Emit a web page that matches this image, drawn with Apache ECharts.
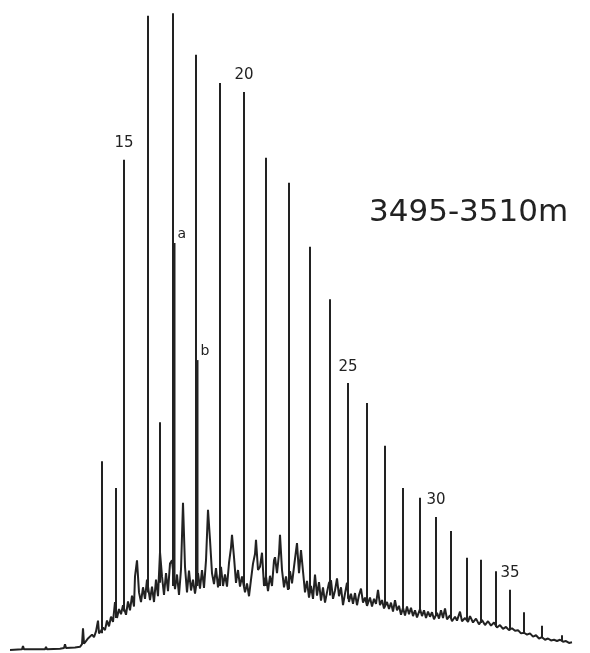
<!DOCTYPE html>
<html>
<head>
<meta charset="utf-8">
<script src="https://cdn.jsdelivr.net/npm/echarts@6/dist/echarts.min.js"></script>
<style>
  html, body { margin: 0; padding: 0; background: #fff; }
  #chart { width: 590px; height: 653px; }
</style>
</head>
<body>
<div id="chart"></div>
<script>
var sampleName = '3495-3510m'

// spikes: retention time (min), baseline under the spike, top of the spike
var peakTimes = [9.2, 10.6, 11.4, 13.8, 15.0, 16.3, 16.45, 18.6, 18.75, 21.0, 23.4, 25.6, 27.9, 30.0, 32.0, 33.8, 35.7, 37.5, 39.3, 41.0, 42.6, 44.1, 45.7, 47.1, 48.6, 50.0, 51.4, 53.2, 55.2]
var peakBase  = [2.6, 5.0, 6.0, 9.0, 10.5, 10.0, 10.0, 10.0, 10.0, 10.0, 10.0, 10.0, 9.5, 9.0, 8.5, 8.0, 7.5, 7.0, 6.2, 5.8, 5.3, 5.0, 4.6, 4.2, 3.6, 3.2, 2.7, 2.0, 1.4]
var peakTops  = [29.5, 25.3, 76.6, 99.1, 35.6, 99.5, 63.6, 93.0, 45.3, 88.6, 87.2, 76.9, 73.0, 63.0, 54.8, 41.7, 38.6, 31.9, 25.3, 23.8, 20.8, 18.6, 14.4, 14.1, 12.3, 9.4, 5.9, 3.8, 2.3]
var peakNames = ['', '', '15', '', '', '', 'a', '', 'b', '', '20', '', '', '', '', '25', '', '', '', '', '30', '', '', '', '', '35', '', '', '']

// unresolved hump + noise, [time, response]
var trace = [[0,0],[1.2,0.1],[1.3,0.6],[1.4,0.1],[3.0,0.1],[3.5,0.1],[3.6,0.5],[3.7,0.1],[5.0,0.2],[5.4,0.3],[5.5,0.9],[5.6,0.3],[6.5,0.4],[7.0,0.5],[7.2,0.9],[7.3,3.4],[7.4,1.0],[7.6,1.4],[7.8,1.8],[8.0,1.5],[8.2,2.4],[8.4,2.0],[8.6,2.9],[8.8,4.6],[8.9,2.6],[9.1,3.0],[9.3,3.5],[9.5,3.1],[9.7,4.6],[9.9,3.7],[10.1,5.2],[10.3,4.4],[10.5,7.5],[10.7,5.0],[10.9,6.4],[11.1,5.6],[11.3,7.0],[11.6,5.5],[11.8,7.6],[12.0,6.2],[12.2,8.5],[12.4,6.8],[12.5,11.5],[12.7,14.0],[12.9,9.0],[13.1,7.5],[13.3,9.8],[13.5,8.0],[13.7,11.0],[14.0,7.8],[14.2,9.9],[14.4,7.5],[14.6,11.0],[14.8,8.4],[15.0,15.3],[15.2,11.5],[15.4,8.6],[15.6,12.0],[15.8,9.2],[16.0,13.5],[16.2,14.0],[16.5,9.5],[16.7,11.8],[16.9,8.6],[17.1,12.6],[17.3,23.0],[17.5,13.0],[17.7,9.0],[17.9,12.4],[18.1,9.3],[18.3,11.0],[18.5,8.8],[18.8,12.0],[19.0,9.6],[19.2,12.5],[19.4,9.7],[19.6,14.0],[19.8,21.9],[20.0,17.2],[20.2,12.0],[20.4,10.3],[20.6,12.8],[20.8,9.8],[21.1,13.0],[21.3,10.0],[21.5,11.8],[21.7,9.9],[21.9,13.6],[22.1,16.0],[22.2,18.0],[22.4,14.5],[22.6,10.5],[22.8,12.5],[23.0,9.9],[23.2,11.5],[23.5,9.0],[23.7,10.4],[23.9,8.4],[24.1,11.0],[24.3,13.5],[24.5,15.0],[24.6,17.2],[24.8,12.5],[25.0,13.0],[25.2,15.2],[25.4,10.0],[25.6,11.5],[25.8,9.2],[26.0,11.6],[26.2,10.0],[26.4,14.0],[26.5,14.5],[26.7,12.0],[26.9,15.0],[27.0,18.0],[27.2,12.5],[27.4,9.8],[27.6,11.5],[27.8,9.4],[28.0,12.3],[28.2,10.4],[28.4,13.0],[28.6,15.5],[28.7,16.7],[28.9,12.0],[29.1,15.6],[29.3,12.3],[29.5,9.0],[29.7,10.8],[29.9,8.2],[30.1,10.0],[30.3,8.0],[30.5,11.8],[30.7,8.5],[30.9,10.6],[31.1,7.7],[31.3,9.8],[31.5,7.4],[31.7,9.0],[31.9,10.5],[32.1,10.9],[32.3,8.0],[32.5,9.3],[32.7,11.2],[32.9,8.4],[33.1,9.8],[33.3,7.0],[33.5,8.8],[33.7,10.5],[33.9,7.5],[34.1,8.8],[34.3,7.2],[34.5,8.9],[34.7,7.0],[34.9,8.6],[35.1,9.6],[35.3,7.4],[35.5,8.2],[35.7,6.9],[36.0,8.2],[36.2,6.8],[36.4,8.0],[36.6,7.2],[36.8,9.4],[37.0,7.0],[37.2,7.8],[37.4,6.5],[37.7,7.5],[37.9,6.4],[38.1,7.4],[38.3,6.0],[38.5,7.8],[38.7,6.2],[38.9,6.9],[39.1,5.5],[39.3,6.6],[39.5,5.4],[39.7,6.8],[39.9,5.6],[40.1,6.6],[40.3,5.3],[40.5,6.2],[40.7,5.1],[41.0,6.4],[41.2,5.3],[41.4,6.2],[41.6,5.0],[41.8,6.0],[42.0,5.2],[42.2,5.9],[42.4,4.8],[42.7,5.8],[42.9,4.9],[43.1,6.2],[43.3,5.0],[43.5,6.5],[43.7,4.8],[44.0,5.4],[44.2,4.5],[44.5,5.2],[44.7,4.6],[45.0,6.0],[45.2,4.5],[45.5,5.0],[45.8,4.4],[46.0,5.3],[46.3,4.3],[46.6,4.9],[46.9,4.0],[47.2,4.7],[47.5,3.9],[47.8,4.5],[48.1,3.8],[48.4,4.3],[48.7,3.5],[49.0,3.9],[49.3,3.3],[49.6,3.6],[49.9,3.1],[50.2,3.4],[50.5,3.0],[50.8,3.1],[51.1,2.6],[51.4,2.7],[51.7,2.4],[52.0,2.6],[52.3,2.1],[52.6,2.3],[52.9,1.8],[53.2,2.0],[53.5,1.6],[53.8,1.8],[54.1,1.5],[54.4,1.6],[54.7,1.4],[55.0,1.6],[55.3,1.3],[55.6,1.4],[55.9,1.1],[56.2,1.2]]

var ink = '#222'

var peakData = []
for (var i = 0; i < peakTimes.length; i++) {
  peakData.push([peakTimes[i], peakBase[i], peakTops[i]])
}

function renderPeak(params, api) {
  var p0 = api.coord([api.value(0), api.value(1)])
  var p1 = api.coord([api.value(0), api.value(2)])
  var kids = [{
    type: 'line',
    shape: { x1: p0[0], y1: p0[1], x2: p1[0], y2: p1[1] },
    style: { stroke: ink, lineWidth: 2 }
  }]
  var name = peakNames[params.dataIndex]
  if (name) {
    var letter = isNaN(+name)
    kids.push({
      type: 'text',
      x: letter ? p1[0] + 3 : p1[0],
      y: letter ? p1[1] - 2 : p1[1] - 9,
      style: {
        text: name,
        align: letter ? 'left' : 'center',
        verticalAlign: 'bottom',
        fill: '#222',
        fontSize: letter ? 14 : 15,
        fontFamily: 'DejaVu Sans'
      }
    })
  }
  return { type: 'group', children: kids }
}

var chart = echarts.init(document.getElementById('chart'))
chart.setOption({
  backgroundColor: '#fff',
  animation: false,
  title: {
    text: sampleName,
    left: 369,
    top: 197,
    padding: 0,
    textStyle: { color: '#222', fontSize: 31, fontWeight: 'normal', fontFamily: 'DejaVu Sans' }
  },
  grid: { left: 10, right: 10, top: 10, bottom: 3 },
  xAxis: { type: 'value', min: 0, max: 57, show: false },
  yAxis: { type: 'value', min: 0, max: 100, show: false },
  series: [
    {
      type: 'line',
      data: trace,
      symbol: 'none',
      lineStyle: { color: ink, width: 2 },
      z: 2
    },
    {
      type: 'custom',
      data: peakData,
      renderItem: renderPeak,
      clip: false,
      z: 3
    }
  ]
})
</script>
</body>
</html>
